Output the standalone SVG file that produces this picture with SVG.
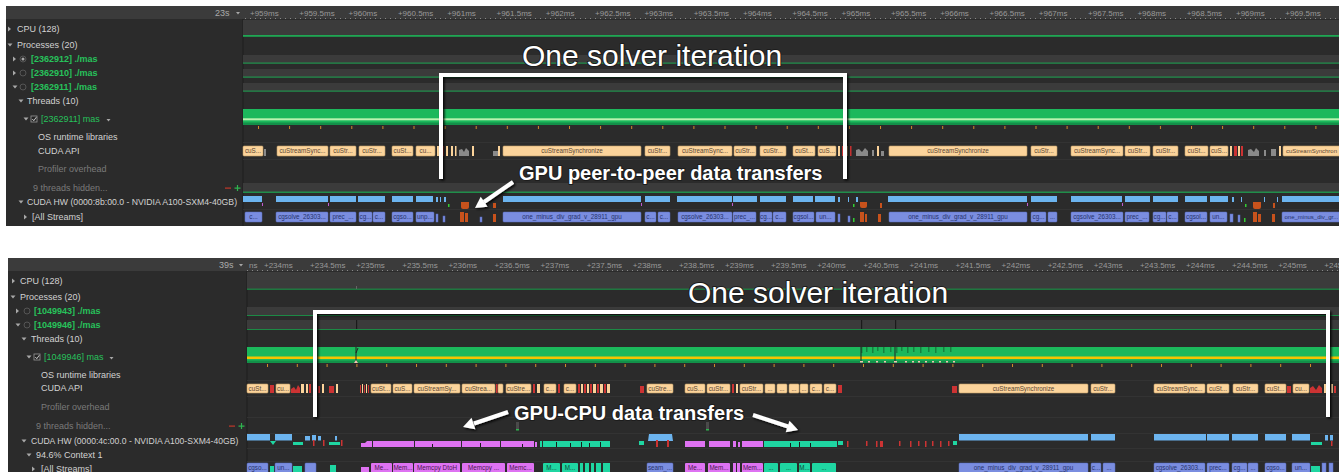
<svg xmlns="http://www.w3.org/2000/svg" width="1339" height="472" viewBox="0 0 1339 472">
<style>
.ui{font-family:"Liberation Sans",Arial,sans-serif;font-size:9px;fill:#d2d2d2}
.gb{fill:#27c25b;font-weight:bold}
.g2{fill:#27c25b}
.dim{fill:#7a7a7a}
.tick{font-family:"Liberation Sans",Arial,sans-serif;font-size:8px;fill:#999}
.api{fill:#fcd49b;stroke:#c29d6a;stroke-width:0.6}
.bt{font-family:"Liberation Sans",Arial,sans-serif;font-size:6.3px;text-anchor:middle}
.bs{font-family:"Liberation Sans",Arial,sans-serif;font-size:6px}
.at{fill:#5a4734}
.kt{fill:#26336e}
.pt{fill:#4a1850}
.tt{fill:#0d4a38}
.hw{fill:#6cb4ef}
.ks{fill:#7a8de0;stroke:#5a6cc0;stroke-width:0.5}
.mp{fill:#de72f2}
.tl{fill:#1fd6a2}
.rd{fill:#cc3333}
.or{fill:#c8521c}
.bg{fill:#fcd49b}
.gy{fill:#8a8a8a}
.bd{fill:#3b3b3b}
.gl{fill:#1fa653}
.tri{fill:#a8a8a8}
.ann{font-family:"Liberation Sans",Arial,sans-serif;fill:#fff;stroke:#1c1c1c;stroke-width:2;paint-order:stroke;stroke-linejoin:round}
.br{fill:none;stroke:#fff;stroke-width:4}
</style>
<defs>
<filter id="sh" x="-10%" y="-10%" width="120%" height="130%">
<feDropShadow dx="1.5" dy="1.5" stdDeviation="1.2" flood-color="#000" flood-opacity="0.9"/>
</filter>
<pattern id="tk1" x="258" y="126" width="31.1" height="3" patternUnits="userSpaceOnUse"><rect width="1" height="3" fill="#d08a2a"/></pattern>
<pattern id="tk2" x="267" y="364" width="29.8" height="3" patternUnits="userSpaceOnUse"><rect width="1" height="3" fill="#d08a2a"/></pattern>
</defs>
<rect width="1339" height="472" fill="#fff"/>

<!-- ================= TOP PANEL ================= -->
<g id="top-panel">
<rect x="6" y="6" width="1333" height="220" fill="#2b2b2b"/>
<rect x="6" y="6" width="1333" height="13" fill="#3b3b3b"/>
<line x1="243" y1="19" x2="243" y2="226" stroke="#1f1f1f"/>
<line x1="245" y1="18.5" x2="1339" y2="18.5" stroke="#888" stroke-dasharray="1 4"/>
<text class="tick" x="215" y="16" style="font-size:9px;fill:#aaa">23s</text>
<path d="M236,12 h4 l-2,2.5 z" class="tri"/>
<g class="tick">
<text x="250" y="15.5">+959ms</text><text x="299.3" y="15.5">+959.5ms</text><text x="348.6" y="15.5">+960ms</text><text x="397.9" y="15.5">+960.5ms</text><text x="447.2" y="15.5">+961ms</text><text x="496.5" y="15.5">+961.5ms</text><text x="545.8" y="15.5">+962ms</text><text x="595.1" y="15.5">+962.5ms</text><text x="644.4" y="15.5">+963ms</text><text x="693.7" y="15.5">+963.5ms</text><text x="743" y="15.5">+964ms</text><text x="792.3" y="15.5">+964.5ms</text><text x="841.6" y="15.5">+965ms</text><text x="890.9" y="15.5">+965.5ms</text><text x="940.2" y="15.5">+966ms</text><text x="989.5" y="15.5">+966.5ms</text><text x="1038.8" y="15.5">+967ms</text><text x="1088.1" y="15.5">+967.5ms</text><text x="1137.4" y="15.5">+968ms</text><text x="1186.7" y="15.5">+968.5ms</text><text x="1236" y="15.5">+969ms</text><text x="1285.3" y="15.5">+969.5ms</text>
</g>

<!-- left tree -->
<g id="top-tree">
<path class="tri" d="M8,26.5 l3,2.5 l-3,2.5 z"/><text class="ui" x="17" y="32.2">CPU (128)</text>
<path class="tri" d="M7.5,43.5 h5 l-2.5,3 z"/><text class="ui" x="17" y="48.2">Processes (20)</text>
<path class="tri" d="M13,56.5 l3,2.5 l-3,2.5 z"/><circle cx="23" cy="59" r="3" fill="none" stroke="#555"/><circle cx="23" cy="59" r="1.5" fill="#aaa"/><text class="ui gb" x="31" y="62.2">[2362912] ./mas</text>
<path class="tri" d="M13,70.5 l3,2.5 l-3,2.5 z"/><circle cx="23" cy="73" r="3" fill="none" stroke="#555"/><text class="ui gb" x="31" y="76.2">[2362910] ./mas</text>
<path class="tri" d="M12.5,85.5 h5 l-2.5,3 z"/><circle cx="23" cy="87" r="3" fill="none" stroke="#555"/><text class="ui gb" x="31" y="90.2">[2362911] ./mas</text>
<path class="tri" d="M18.5,99.5 h5 l-2.5,3 z"/><text class="ui" x="27" y="104.2">Threads (10)</text>
<path class="tri" d="M23.5,117.5 h5 l-2.5,3 z"/><rect x="31" y="116" width="6" height="6" fill="#222" stroke="#999" stroke-width="0.8"/><path d="M32.3,119 l1.5,1.7 l2.5,-3.5" fill="none" stroke="#ddd" stroke-width="0.9"/><text class="ui g2" x="41" y="122.2">[2362911] mas</text><path class="tri" d="M106.5,119 h4 l-2,2.5 z"/>
<text class="ui" x="38" y="140.2">OS runtime libraries</text>
<text class="ui" x="38" y="154.2">CUDA API</text>
<text class="ui dim" x="38" y="172.2">Profiler overhead</text>
<text class="ui dim" x="33" y="191.2">9 threads hidden...</text>
<rect x="225" y="187.5" width="6" height="1.2" fill="#c0392b"/><path d="M234.5,188.1 h6 M237.5,185.1 v6" stroke="#2fb34f" stroke-width="1.2"/>
<path class="tri" d="M18.5,200.5 h5 l-2.5,3 z"/><text class="ui" x="27" y="205.2" style="font-size:8.7px">CUDA HW (0000:8b:00.0 - NVIDIA A100-SXM4-40GB)</text>
<path class="tri" d="M24,214.5 l3,2.5 l-3,2.5 z"/><text class="ui" x="32" y="220.2">[All Streams]</text>
</g>

<!-- timeline rows -->
<g id="top-rows">
<rect class="bd" x="243" y="20" width="1096" height="15"/><rect class="gl" x="243" y="35" width="1096" height="1.8"/>
<rect class="bd" x="243" y="55" width="1096" height="8"/><rect class="gl" x="243" y="62.6" width="1096" height="1"/>
<rect class="bd" x="243" y="69" width="1096" height="8"/><rect class="gl" x="243" y="76.6" width="1096" height="1"/>
<rect class="bd" x="243" y="83" width="1096" height="8"/><rect class="gl" x="243" y="90.6" width="1096" height="1"/>
<rect x="243" y="109" width="1096" height="16" fill="#1cb85c"/>
<rect x="243" y="118.3" width="1096" height="2" fill="#b9f3b0"/>
<rect x="243" y="122.5" width="1096" height="2.5" fill="#139049"/>
<rect x="243" y="126" width="1096" height="3" fill="url(#tk1)"/>
<rect class="bd" x="243" y="183" width="1096" height="9"/><rect class="gl" x="243" y="191.6" width="1096" height="1.2"/>
<line x1="243" y1="142.5" x2="1339" y2="142.5" stroke="#333"/>
<line x1="243" y1="159.5" x2="1339" y2="159.5" stroke="#333"/>
<line x1="243" y1="209.5" x2="1339" y2="209.5" stroke="#333"/>
</g>

<!-- CUDA API -->
<g id="top-api">
<rect class="api" x="243" y="146" width="20" height="10" rx="1"/>
<rect class="api" x="277" y="146" width="51" height="10" rx="1"/>
<rect class="api" x="330" y="146" width="26" height="10" rx="1"/>
<rect class="api" x="359" y="146" width="26" height="10" rx="1"/>
<rect class="api" x="392" y="146" width="21" height="10" rx="1"/>
<rect class="api" x="416" y="146" width="19" height="10" rx="1"/>
<rect class="api" x="503" y="146" width="138" height="10" rx="1"/>
<rect class="api" x="645" y="146" width="25" height="10" rx="1"/>
<rect class="api" x="678" y="146" width="54" height="10" rx="1"/>
<rect class="api" x="734" y="146" width="22" height="10" rx="1"/>
<rect class="api" x="760" y="146" width="26" height="10" rx="1"/>
<rect class="api" x="793" y="146" width="22" height="10" rx="1"/>
<rect class="api" x="818" y="146" width="18" height="10" rx="1"/>
<rect class="api" x="889" y="146" width="138" height="10" rx="1"/>
<rect class="api" x="1031" y="146" width="26" height="10" rx="1"/>
<rect class="api" x="1071" y="146" width="52" height="10" rx="1"/>
<rect class="api" x="1125" y="146" width="25" height="10" rx="1"/>
<rect class="api" x="1153" y="146" width="25" height="10" rx="1"/>
<rect class="api" x="1185" y="146" width="23" height="10" rx="1"/>
<rect class="api" x="1210" y="146" width="18" height="10" rx="1"/>
<rect class="api" x="1283" y="146" width="57" height="10" rx="1"/>
<g class="bt at">
<text x="253" y="153.3">cuS...</text><text x="302.5" y="153.3">cuStreamSync...</text><text x="343" y="153.3">cuStr...</text><text x="372" y="153.3">cuStr...</text><text x="402.5" y="153.3">cuSt...</text><text x="425.5" y="153.3">cu...</text>
<text x="572" y="153.3">cuStreamSynchronize</text><text x="657.5" y="153.3">cuStr...</text><text x="705" y="153.3">cuStreamSync...</text><text x="745" y="153.3">cuStr...</text><text x="773" y="153.3">cuStr...</text><text x="804" y="153.3">cuSt...</text><text x="827" y="153.3">cuS...</text>
<text x="958" y="153.3">cuStreamSynchronize</text><text x="1044" y="153.3">cuStr...</text><text x="1097" y="153.3">cuStreamSync...</text><text x="1137.5" y="153.3">cuStr...</text><text x="1165.5" y="153.3">cuStr...</text><text x="1196.5" y="153.3">cuSt...</text><text x="1219" y="153.3">cuS...</text>
</g>
<text class="bs at" x="1286" y="153.3">cuStreamSynchron</text>
<rect class="gy" x="264" y="149" width="2" height="7"/>
<rect class="bg" x="437" y="146" width="2" height="10"/><rect class="rd" x="441" y="146" width="3" height="10"/><rect class="bg" x="446" y="146" width="2" height="10"/><rect class="bg" x="451" y="146" width="2" height="10"/><rect class="bg" x="455" y="146" width="1.5" height="10"/>
<polygon class="gy" points="459,156 459,150 462,149 464,152 466,148 469,151 469,156"/><rect class="bg" x="472" y="146" width="2" height="10"/>
<rect class="gy" x="493" y="151" width="5" height="5"/><rect class="bg" x="498" y="146" width="2" height="10"/>
<rect class="bg" x="838" y="146" width="2" height="10"/><rect class="rd" x="842" y="146" width="2" height="10"/><rect class="bg" x="846" y="146" width="2" height="10"/><rect class="rd" x="850" y="146" width="1.5" height="10"/>
<polygon class="gy" points="856,156 856,150 859,149 862,152 865,148 868,151 868,156"/><rect class="gy" x="872" y="150" width="2" height="6"/><rect class="bg" x="877" y="146" width="2" height="10"/><rect class="gy" x="881" y="151" width="3" height="5"/>
<rect class="bg" x="1230" y="146" width="2" height="10"/><rect class="rd" x="1234" y="146" width="3" height="10"/><rect class="bg" x="1238" y="146" width="2" height="10"/><rect class="rd" x="1241" y="146" width="2" height="10"/>
<polygon class="gy" points="1248,156 1248,150 1251,149 1254,152 1256,148 1259,151 1259,156"/><rect class="gy" x="1264" y="150" width="2" height="6"/><rect class="gy" x="1271" y="149" width="5" height="7"/><rect class="bg" x="1279" y="146" width="2" height="10"/>
</g>

<!-- CUDA HW -->
<g id="top-hw">
<g class="hw">
<rect x="243" y="196" width="19" height="6"/><rect x="276" y="196" width="52" height="6"/><rect x="330" y="196" width="26" height="6"/><rect x="358" y="196" width="27" height="6"/><rect x="392" y="196" width="21" height="6"/><rect x="416" y="196" width="17" height="6"/><rect x="436" y="197" width="2" height="5"/><rect x="440" y="197" width="1" height="5"/><rect x="444" y="197" width="2" height="5"/>
<rect x="503" y="196" width="138" height="6"/><rect x="645" y="196" width="25" height="6"/><rect x="677" y="196" width="55" height="6"/><rect x="733" y="196" width="24" height="6"/><rect x="760" y="196" width="26" height="6"/><rect x="793" y="196" width="20" height="6"/><rect x="815" y="196" width="20" height="6"/><rect x="838" y="197" width="2" height="5"/><rect x="848" y="197" width="1" height="5"/><rect x="856" y="197" width="2" height="5"/>
<rect x="888" y="196" width="139" height="6"/><rect x="1031" y="196" width="26" height="6"/><rect x="1071" y="196" width="51" height="6"/><rect x="1125" y="196" width="25" height="6"/><rect x="1153" y="196" width="25" height="6"/><rect x="1185" y="196" width="22" height="6"/><rect x="1210" y="196" width="18" height="6"/><rect x="1232" y="197" width="2" height="5"/><rect x="1241" y="197" width="1" height="5"/><rect x="1264" y="197" width="1" height="5"/><rect x="1277" y="197" width="1" height="5"/>
<rect x="1282" y="196" width="57" height="6"/>
</g>
<path class="or" d="M461,202 h8 v5 q0,2 -2,2 h-4 q-2,0 -2,-2 z"/><rect class="or" x="493" y="203" width="3" height="5"/>
<path class="or" d="M860,202 h7 v4 q0,2 -2,2 h-3 q-2,0 -2,-2 z"/><rect class="or" x="880" y="203" width="2" height="5"/>
<path class="or" d="M1253,202 h8 v5 q0,2 -2,2 h-4 q-2,0 -2,-2 z"/><rect class="or" x="1273" y="203" width="2" height="5"/>
<rect x="448" y="204" width="1.5" height="3" fill="#3c3"/><rect x="853" y="204" width="1.5" height="3" fill="#3c3"/><rect x="1245" y="204" width="1.5" height="3" fill="#3c3"/>
<g fill="#c05ad0"><rect x="262" y="203" width="1" height="3"/><rect x="328" y="203" width="1" height="3"/><rect x="641" y="203" width="1" height="3"/><rect x="732" y="203" width="1" height="3"/><rect x="1027" y="203" width="1" height="3"/><rect x="1122" y="203" width="1" height="3"/></g>
</g>

<!-- All Streams -->
<g id="top-streams">
<rect class="ks" x="245" y="212" width="17" height="10" rx="1"/>
<rect class="ks" x="276" y="212" width="52" height="10" rx="1"/>
<rect class="ks" x="330" y="212" width="26" height="10" rx="1"/>
<rect class="ks" x="359" y="212" width="13" height="10" rx="1"/>
<rect class="ks" x="373" y="212" width="12" height="10" rx="1"/>
<rect class="ks" x="392" y="212" width="21" height="10" rx="1"/>
<rect class="ks" x="416" y="212" width="18" height="10" rx="1"/>
<rect class="ks" x="436" y="214" width="2" height="8"/><rect class="ks" x="443" y="216" width="2" height="6"/>
<rect class="or" x="460" y="212" width="4" height="10"/><rect class="or" x="465" y="213" width="3" height="9"/><rect class="or" x="493" y="214" width="3" height="8"/><rect class="ks" x="480" y="217" width="2" height="5"/>
<rect class="ks" x="503" y="212" width="138" height="10" rx="1"/>
<rect class="ks" x="645" y="212" width="11" height="10" rx="1"/>
<rect class="ks" x="658" y="212" width="12" height="10" rx="1"/>
<rect class="ks" x="678" y="212" width="54" height="10" rx="1"/>
<rect class="ks" x="733" y="212" width="23" height="10" rx="1"/>
<rect class="ks" x="760" y="212" width="12" height="10" rx="1"/>
<rect class="ks" x="773" y="212" width="13" height="10" rx="1"/>
<rect class="ks" x="793" y="212" width="21" height="10" rx="1"/>
<rect class="ks" x="816" y="212" width="19" height="10" rx="1"/>
<rect class="ks" x="838" y="214" width="2" height="8"/><rect class="ks" x="848" y="216" width="2" height="6"/><rect x="853" y="218" width="1.5" height="4" fill="#3c3"/>
<rect class="or" x="860" y="212" width="4" height="10"/><rect class="or" x="865" y="214" width="2" height="8"/><rect class="or" x="878" y="214" width="3" height="8"/>
<rect class="ks" x="889" y="212" width="138" height="10" rx="1"/>
<rect class="ks" x="1031" y="212" width="15" height="10" rx="1"/>
<rect class="ks" x="1048" y="212" width="9" height="10" rx="1"/>
<rect class="ks" x="1071" y="212" width="52" height="10" rx="1"/>
<rect class="ks" x="1125" y="212" width="24" height="10" rx="1"/>
<rect class="ks" x="1153" y="212" width="13" height="10" rx="1"/>
<rect class="ks" x="1167" y="212" width="11" height="10" rx="1"/>
<rect class="ks" x="1185" y="212" width="22" height="10" rx="1"/>
<rect class="ks" x="1210" y="212" width="17" height="10" rx="1"/>
<rect class="ks" x="1230" y="214" width="3" height="8"/><rect class="ks" x="1238" y="215" width="2" height="7"/><rect x="1244" y="218" width="1.5" height="4" fill="#3c3"/>
<rect class="or" x="1253" y="212" width="4" height="10"/><rect class="or" x="1258" y="214" width="3" height="8"/><rect class="or" x="1272" y="214" width="3" height="8"/>
<rect class="ks" x="1282" y="212" width="58" height="10" rx="1"/>
<g class="bt kt">
<text x="253.5" y="219.3">c...</text><text x="302" y="219.3">cgsolve_26303...</text><text x="343" y="219.3">prec_...</text><text x="365.5" y="219.3">cg...</text><text x="379" y="219.3">c...</text><text x="402.5" y="219.3">cgso...</text><text x="425" y="219.3">unp...</text>
<text x="572" y="219.3">one_minus_div_grad_v_28911_gpu</text><text x="650.5" y="219.3">c...</text><text x="664" y="219.3">c...</text><text x="705" y="219.3">cgsolve_26303...</text><text x="744.5" y="219.3">prec_...</text><text x="766" y="219.3">cg...</text><text x="779.5" y="219.3">c...</text><text x="803.5" y="219.3">cgsol...</text><text x="825.5" y="219.3">un...</text>
<text x="958" y="219.3">one_minus_div_grad_v_28911_gpu</text><text x="1038.5" y="219.3">cg...</text><text x="1052.5" y="219.3">...</text><text x="1097" y="219.3">cgsolve_26303...</text><text x="1137" y="219.3">prec_...</text><text x="1159.5" y="219.3">cg...</text><text x="1172.5" y="219.3">c...</text><text x="1196" y="219.3">cgsol...</text><text x="1218.5" y="219.3">un...</text>
</g>
<text class="bs kt" x="1284.5" y="219.3">one_minus_div_gr...</text>
</g>

<!-- annotations -->
<g id="top-annotations">
<path class="br" d="M441,179 V75 H845 V179" filter="url(#sh)"/>
<text class="ann" x="522" y="66" font-size="30">One solver iteration</text>
<text class="ann" x="519" y="180" font-size="20" font-weight="bold">GPU peer-to-peer data transfers</text>
<g filter="url(#sh)">
<line x1="513" y1="182" x2="484" y2="202" stroke="#fff" stroke-width="4"/>
<polygon points="475,208 487.5,206.8 480.7,196.8" fill="#fff"/>
</g>
</g>
</g>

<!-- ================= BOTTOM PANEL ================= -->
<g id="bottom-panel">
<rect x="8" y="258" width="1331" height="214" fill="#2b2b2b"/>
<rect x="8" y="258" width="1331" height="13" fill="#3b3b3b"/>
<line x1="247" y1="271" x2="247" y2="472" stroke="#1f1f1f"/>
<line x1="247" y1="270.5" x2="1339" y2="270.5" stroke="#888" stroke-dasharray="1 4"/>
<text class="tick" x="219" y="268" style="font-size:9px;fill:#aaa">39s</text>
<path d="M239,264 h4 l-2,2.5 z" class="tri"/>
<g class="tick">
<text x="249" y="267.5">ns</text><text x="264" y="267.5">+234ms</text><text x="310.1" y="267.5">+234.5ms</text><text x="356.2" y="267.5">+235ms</text><text x="402.3" y="267.5">+235.5ms</text><text x="448.4" y="267.5">+236ms</text><text x="494.5" y="267.5">+236.5ms</text><text x="540.6" y="267.5">+237ms</text><text x="586.7" y="267.5">+237.5ms</text><text x="632.8" y="267.5">+238ms</text><text x="678.9" y="267.5">+238.5ms</text><text x="725" y="267.5">+239ms</text><text x="771.1" y="267.5">+239.5ms</text><text x="817.2" y="267.5">+240ms</text><text x="863.3" y="267.5">+240.5ms</text><text x="909.4" y="267.5">+241ms</text><text x="955.5" y="267.5">+241.5ms</text><text x="1001.6" y="267.5">+242ms</text><text x="1047.7" y="267.5">+242.5ms</text><text x="1093.8" y="267.5">+243ms</text><text x="1139.9" y="267.5">+243.5ms</text><text x="1186" y="267.5">+244ms</text><text x="1232.1" y="267.5">+244.5ms</text><text x="1278.2" y="267.5">+245ms</text><text x="1324.3" y="267.5">+245.5ms</text>
</g>

<g id="bottom-tree">
<path class="tri" d="M12,278.5 l3,2.5 l-3,2.5 z"/><text class="ui" x="20" y="284.2">CPU (128)</text>
<path class="tri" d="M10.5,295.5 h5 l-2.5,3 z"/><text class="ui" x="20" y="300.2">Processes (20)</text>
<path class="tri" d="M16,308.5 l3,2.5 l-3,2.5 z"/><circle cx="27" cy="311" r="3" fill="none" stroke="#555"/><text class="ui gb" x="34" y="314.2">[1049943] ./mas</text>
<path class="tri" d="M15.5,323.5 h5 l-2.5,3 z"/><circle cx="27" cy="325" r="3" fill="none" stroke="#555"/><text class="ui gb" x="34" y="328.2">[1049946] ./mas</text>
<path class="tri" d="M21.5,337.5 h5 l-2.5,3 z"/><text class="ui" x="31" y="342.2">Threads (10)</text>
<path class="tri" d="M26.5,355.5 h5 l-2.5,3 z"/><rect x="34" y="354" width="6" height="6" fill="#222" stroke="#999" stroke-width="0.8"/><path d="M35.3,357 l1.5,1.7 l2.5,-3.5" fill="none" stroke="#ddd" stroke-width="0.9"/><text class="ui g2" x="44" y="360.2">[1049946] mas</text><path class="tri" d="M109.5,357 h4 l-2,2.5 z"/>
<text class="ui" x="41" y="378.2">OS runtime libraries</text>
<text class="ui" x="41" y="391.2">CUDA API</text>
<text class="ui dim" x="41" y="410.2">Profiler overhead</text>
<text class="ui dim" x="36" y="429.2">9 threads hidden...</text>
<rect x="229" y="425.5" width="6" height="1.2" fill="#c0392b"/><path d="M238.5,426.1 h6 M241.5,423.1 v6" stroke="#2fb34f" stroke-width="1.2"/>
<path class="tri" d="M21.5,439.5 h5 l-2.5,3 z"/><text class="ui" x="31" y="444.2" style="font-size:8.6px">CUDA HW (0000:4c:00.0 - NVIDIA A100-SXM4-40GB)</text>
<path class="tri" d="M26.5,453.5 h5 l-2.5,3 z"/><text class="ui" x="36" y="458.2">94.6% Context 1</text>
<path class="tri" d="M32,466.5 l3,2.5 l-3,2.5 z"/><text class="ui" x="41" y="471.6">[All Streams]</text>
</g>

<g id="bottom-rows">
<rect class="bd" x="247" y="272" width="1092" height="17"/><rect x="247" y="288.6" width="1092" height="1.2" fill="#1c8a45"/><rect x="356" y="286" width="1" height="3" fill="#666"/>
<rect class="bd" x="247" y="307" width="1092" height="8"/><rect x="247" y="315" width="1092" height="1" fill="#1c8a45"/>
<rect class="bd" x="247" y="320" width="1092" height="9"/><rect x="247" y="329" width="1092" height="1" fill="#1c8a45"/>
<g fill="#1a1a1a"><rect x="356" y="320" width="1.2" height="9"/><rect x="861" y="320" width="1.2" height="9"/><rect x="895" y="320" width="1.2" height="9"/></g>
<rect x="247" y="347" width="1092" height="16" fill="#1cb85c"/>
<rect x="247" y="356.5" width="1092" height="2.5" fill="#f5c400"/>
<rect x="247" y="360.5" width="1092" height="2.5" fill="#139049"/>
<rect x="247" y="364" width="1092" height="3" fill="url(#tk2)"/>
<path d="M356,347 v14 M358,348 l-2,5" stroke="#222" stroke-width="1" fill="none"/>
<polygon points="354,363 358,363 356,360" fill="#f3c3b3"/>
<g fill="#17803f">
<rect x="861" y="347" width="1.5" height="6"/><rect x="866" y="347" width="1.5" height="5"/><rect x="872" y="347" width="1.5" height="6"/><rect x="877" y="347" width="1.5" height="4"/><rect x="883" y="347" width="1.5" height="6"/><rect x="890" y="347" width="1.5" height="5"/><rect x="896" y="347" width="1.5" height="6"/><rect x="901" y="347" width="1.5" height="4"/><rect x="907" y="347" width="1.5" height="6"/><rect x="913" y="347" width="1.5" height="5"/><rect x="920" y="347" width="1.5" height="6"/><rect x="928" y="347" width="1.5" height="5"/><rect x="935" y="347" width="1.5" height="6"/><rect x="943" y="347" width="1.5" height="5"/><rect x="950" y="347" width="1.5" height="5"/>
</g>
<path d="M861,347 v14 M895,347 v14" stroke="#222" stroke-width="1"/>
<g fill="#f3c3b3"><rect x="860" y="361" width="3" height="1.5"/><rect x="868" y="361" width="2" height="1.5"/><rect x="876" y="361" width="2" height="1.5"/><rect x="884" y="361" width="2" height="1.5"/><rect x="894" y="361" width="3" height="1.5"/><rect x="905" y="361" width="2" height="1.5"/><rect x="912" y="361" width="2" height="1.5"/><rect x="918" y="361" width="2" height="1.5"/><rect x="925" y="361" width="2" height="1.5"/><rect x="932" y="361" width="2" height="1.5"/><rect x="939" y="361" width="2" height="1.5"/><rect x="946" y="361" width="2" height="1.5"/><rect x="953" y="361" width="2" height="1.5"/></g>
<line x1="247" y1="380.5" x2="1339" y2="380.5" stroke="#333"/>
<line x1="247" y1="396.5" x2="1339" y2="396.5" stroke="#333"/>
<line x1="247" y1="417.5" x2="1339" y2="417.5" stroke="#333"/>
<line x1="247" y1="433.5" x2="1339" y2="433.5" stroke="#333"/>
<line x1="247" y1="448.5" x2="1339" y2="448.5" stroke="#333"/>
<line x1="247" y1="461.5" x2="1339" y2="461.5" stroke="#333"/>
<rect x="516" y="422" width="3" height="8" fill="#4a4a4a"/><rect x="516" y="429" width="3" height="1.5" fill="#2fb34f"/>
<rect x="706" y="422" width="3" height="8" fill="#4a4a4a"/><rect x="706" y="429" width="3" height="1.5" fill="#2fb34f"/>
</g>

<g id="bottom-api">
<rect class="api" x="247" y="384" width="21" height="9" rx="1"/>
<rect class="api" x="276" y="384" width="14" height="9" rx="1"/>
<rect class="api" x="371" y="384" width="20" height="9" rx="1"/>
<rect class="api" x="393" y="384" width="19" height="9" rx="1"/>
<rect class="api" x="414" y="384" width="46" height="9" rx="1"/>
<rect class="api" x="462" y="384" width="33" height="9" rx="1"/>
<rect class="api" x="498" y="384" width="5" height="9" rx="1"/>
<rect class="api" x="506" y="384" width="25" height="9" rx="1"/>
<rect class="api" x="544" y="384" width="12" height="9" rx="1"/>
<rect class="api" x="564" y="384" width="12" height="9" rx="1"/>
<rect class="api" x="647" y="384" width="26" height="9" rx="1"/>
<rect class="api" x="685" y="384" width="20" height="9" rx="1"/>
<rect class="api" x="707" y="384" width="23" height="9" rx="1"/>
<rect class="api" x="740" y="384" width="23" height="9" rx="1"/>
<rect class="api" x="765" y="384" width="10" height="9" rx="1"/>
<rect class="api" x="777" y="384" width="10" height="9" rx="1"/>
<rect class="api" x="789" y="384" width="10" height="9" rx="1"/>
<rect class="api" x="800" y="384" width="8" height="9" rx="1"/>
<rect class="api" x="810" y="384" width="12" height="9" rx="1"/>
<rect class="api" x="824" y="384" width="12" height="9" rx="1"/>
<rect class="api" x="959" y="384" width="129" height="9" rx="1"/>
<rect class="api" x="1091" y="384" width="24" height="9" rx="1"/>
<rect class="api" x="1154" y="384" width="51" height="9" rx="1"/>
<rect class="api" x="1207" y="384" width="22" height="9" rx="1"/>
<rect class="api" x="1233" y="384" width="25" height="9" rx="1"/>
<rect class="api" x="1265" y="384" width="21" height="9" rx="1"/>
<rect class="api" x="1293" y="384" width="16" height="9" rx="1"/>
<g class="bt at">
<text x="257.5" y="390.8">cuSt...</text><text x="283" y="390.8">cu...</text><text x="381" y="390.8">cuSt...</text><text x="402.5" y="390.8">cuS...</text><text x="437" y="390.8">cuStreamSy...</text><text x="478.5" y="390.8">cuStrea...</text><text x="518.5" y="390.8">cuStre...</text><text x="550" y="390.8">c...</text><text x="570" y="390.8">c...</text>
<text x="660" y="390.8">cuStre...</text><text x="695" y="390.8">cuS...</text><text x="718.5" y="390.8">cuStr...</text><text x="751.5" y="390.8">cuStr...</text><text x="770" y="390.8">...</text><text x="782" y="390.8">...</text><text x="794" y="390.8">...</text><text x="804" y="390.8">...</text><text x="816" y="390.8">c...</text><text x="830" y="390.8">c...</text>
<text x="1023.5" y="390.8">cuStreamSynchronize</text><text x="1103" y="390.8">cuStr...</text><text x="1179.5" y="390.8">cuStreamSync...</text><text x="1218" y="390.8">cuSt...</text><text x="1245.5" y="390.8">cuStr...</text><text x="1275.5" y="390.8">cuSt...</text><text x="1301" y="390.8">cu...</text>
</g>
<rect class="rd" x="270" y="385" width="4" height="8"/>
<polygon class="rd" points="291,393 291,389 294,387 296,390 298,385 300,388 300,393"/>
<rect class="bg" x="301" y="384" width="3" height="9"/><rect class="bg" x="306" y="384" width="2" height="9"/><rect class="rd" x="309" y="384" width="2" height="9"/><rect class="bg" x="313" y="384" width="3" height="9"/><rect class="rd" x="318" y="386" width="2" height="7"/><rect class="bg" x="322" y="384" width="2" height="9"/><rect class="rd" x="329" y="386" width="5" height="7"/><rect class="bg" x="336" y="384" width="2" height="9"/>
<rect class="rd" x="360" y="385" width="1" height="8"/><rect class="bg" x="362" y="384" width="1" height="9"/><rect class="rd" x="364" y="385" width="1" height="8"/><rect class="bg" x="366" y="384" width="1" height="9"/><rect class="rd" x="368" y="385" width="1" height="8"/>
<rect class="rd" x="496" y="384" width="1.5" height="9"/><rect class="rd" x="533" y="384" width="2" height="9"/><rect class="bg" x="537" y="384" width="3" height="9"/><rect class="rd" x="558" y="384" width="2" height="9"/>
<rect class="rd" x="578" y="384" width="2" height="9"/><rect class="bg" x="581" y="384" width="2" height="9"/><rect class="rd" x="584" y="384" width="2" height="9"/><rect class="bg" x="587" y="384" width="2" height="9"/><rect class="rd" x="590" y="384" width="2" height="9"/><rect class="bg" x="593" y="384" width="3" height="9"/><rect class="rd" x="597" y="384" width="2" height="9"/><rect class="bg" x="600" y="384" width="3" height="9"/><rect class="rd" x="604" y="384" width="2" height="9"/><rect class="bg" x="607" y="384" width="3" height="9"/>
<rect class="rd" x="640" y="386" width="4" height="7"/><rect class="rd" x="732" y="384" width="2" height="9"/><rect class="bg" x="736" y="384" width="2" height="9"/><rect class="rd" x="838" y="385" width="4" height="8"/>
<rect class="rd" x="952" y="386" width="5" height="7"/><rect class="rd" x="1287" y="386" width="4" height="7"/>
<polygon class="rd" points="1310,393 1310,388 1313,386 1316,390 1319,385 1322,388 1322,393"/>
<rect class="bg" x="1324" y="384" width="2" height="9"/><rect class="rd" x="1327" y="385" width="2" height="8"/><rect class="bg" x="1331" y="384" width="2" height="9"/><rect class="rd" x="1334" y="386" width="2" height="7"/>
</g>

<g id="bottom-hw">
<g class="hw">
<path d="M247,434 h23 v6.5 h-23 z"/><path d="M275,434 h17 v6.5 h-17 z"/><rect x="305" y="436" width="5" height="4.5"/><rect x="312" y="435" width="4" height="5.5"/><rect x="318" y="436" width="3" height="4.5"/><rect x="335" y="436" width="2" height="4.5"/>
<path d="M648,441 l1,-7 h23 l1,7 z"/>
<rect x="959" y="434" width="129" height="6.5"/><rect x="1091" y="434" width="24" height="6.5"/><rect x="1154" y="434" width="52" height="6.5"/><rect x="1207" y="434" width="22" height="6.5"/><rect x="1232" y="434" width="26" height="6.5"/><rect x="1265" y="434" width="21" height="6.5"/><rect x="1292" y="434" width="18" height="6.5"/><rect x="1325" y="435" width="3" height="5.5"/><rect x="1330" y="435" width="3" height="5.5"/>
</g>
<g class="tl">
<polygon points="270,441 276,441 273,445"/><rect x="293" y="442" width="10" height="3"/><rect x="329" y="442" width="11" height="3"/>
<rect x="540" y="441" width="2" height="6"/><rect x="543" y="441" width="67" height="6"/><rect x="639" y="441" width="5" height="4"/>
<rect x="764" y="441" width="73" height="6"/><rect x="838" y="441" width="5" height="4"/><rect x="953" y="441" width="4" height="4"/><rect x="1311" y="442" width="11" height="3"/>
</g>
<g fill="#1a1a1a"><rect x="556" y="442" width="1" height="5"/><rect x="570" y="443" width="1" height="4"/><rect x="581" y="442" width="1" height="5"/><rect x="589" y="443" width="1" height="4"/><rect x="600" y="442" width="1" height="5"/><rect x="790" y="443" width="1" height="4"/><rect x="799" y="442" width="1" height="5"/><rect x="810" y="443" width="1" height="4"/></g>
<g class="mp">
<path d="M361,447 v-4 h4 l2,-2 h5 v6 z"/><rect x="373" y="441" width="41" height="6"/><rect x="415" y="441" width="46" height="6"/><rect x="462" y="441" width="38" height="6"/><rect x="501" y="441" width="33" height="6"/><rect x="535" y="442" width="2" height="5"/>
<rect x="685" y="441" width="20" height="6"/><rect x="709" y="441" width="21" height="6"/><rect x="733" y="441" width="3" height="6"/><rect x="738" y="442" width="2" height="5"/><rect x="742" y="441" width="21" height="6"/>
</g>
<g fill="#1a1a1a"><rect x="432" y="444" width="1" height="3"/><rect x="480" y="443" width="1" height="4"/><rect x="522" y="444" width="1" height="3"/></g>
<g class="rd">
<rect x="313" y="440" width="1.5" height="6"/><rect x="323" y="440" width="1.5" height="6"/><rect x="341" y="440" width="1.5" height="6"/>
<rect x="656" y="440" width="2" height="7"/><rect x="667" y="440" width="2" height="7"/>
<rect x="847" y="441" width="1.5" height="6"/><rect x="866" y="441" width="1.5" height="5"/><rect x="876" y="441" width="1.5" height="6"/><rect x="880" y="441" width="3" height="6"/><rect x="899" y="441" width="1.5" height="5"/><rect x="910" y="441" width="1.5" height="6"/><rect x="918" y="441" width="1.5" height="5"/><rect x="925" y="441" width="1.5" height="6"/><rect x="932" y="441" width="1.5" height="5"/><rect x="940" y="441" width="1.5" height="6"/><rect x="948" y="441" width="1.5" height="5"/><rect x="1331" y="441" width="1.5" height="5"/>
</g>
</g>

<g id="bottom-streams">
<rect class="ks" x="247" y="463" width="21" height="10" rx="1"/>
<rect class="tl" x="270" y="466" width="4" height="6"/>
<rect class="ks" x="275" y="463" width="17" height="10" rx="1"/>
<rect class="tl" x="293" y="466" width="9" height="6"/>
<rect class="ks" x="305" y="463" width="11" height="10" rx="1"/>
<rect class="tl" x="330" y="465" width="6" height="7"/>
<rect class="mp" x="361" y="467" width="8" height="5"/>
<rect class="mp" x="371" y="463" width="21" height="10" rx="1"/>
<rect class="mp" x="393" y="463" width="20" height="10" rx="1"/>
<rect class="mp" x="414" y="463" width="46" height="10" rx="1"/>
<rect class="mp" x="462" y="463" width="43" height="10" rx="1"/>
<rect class="mp" x="507" y="463" width="27" height="10" rx="1"/>
<rect class="tl" x="543" y="463" width="17" height="10" rx="1"/>
<rect class="tl" x="562" y="463" width="16" height="10" rx="1"/>
<rect class="tl" x="580" y="463" width="3" height="10"/><rect class="tl" x="585" y="463" width="4" height="10"/><rect class="tl" x="591" y="463" width="3" height="10"/><rect class="tl" x="596" y="463" width="5" height="10"/><rect class="tl" x="603" y="463" width="7" height="10"/>
<rect class="ks" x="647" y="463" width="26" height="10" rx="1"/>
<rect class="mp" x="685" y="463" width="20" height="10" rx="1"/>
<rect class="mp" x="708" y="463" width="22" height="10" rx="1"/>
<rect class="mp" x="733" y="463" width="3" height="10"/><rect class="mp" x="737" y="463" width="3" height="10"/>
<rect class="mp" x="742" y="463" width="21" height="10" rx="1"/>
<rect class="tl" x="764" y="463" width="14" height="10" rx="1"/>
<rect class="tl" x="780" y="463" width="17" height="10" rx="1"/>
<rect class="tl" x="799" y="463" width="11" height="10" rx="1"/>
<rect class="tl" x="812" y="463" width="24" height="10" rx="1"/>
<rect class="ks" x="959" y="463" width="129" height="10" rx="1"/>
<rect class="ks" x="1091" y="463" width="10" height="10" rx="1"/>
<rect class="ks" x="1103" y="463" width="12" height="10" rx="1"/>
<rect class="ks" x="1154" y="463" width="51" height="10" rx="1"/>
<rect class="ks" x="1207" y="463" width="22" height="10" rx="1"/>
<rect class="ks" x="1232" y="463" width="15" height="10" rx="1"/>
<rect class="ks" x="1248" y="463" width="10" height="10" rx="1"/>
<rect class="ks" x="1265" y="463" width="21" height="10" rx="1"/>
<rect class="ks" x="1292" y="463" width="18" height="10" rx="1"/>
<rect class="tl" x="1311" y="466" width="9" height="6"/>
<rect class="ks" x="1322" y="463" width="4" height="10"/><rect class="ks" x="1329" y="463" width="4" height="10"/>
<g class="bt kt">
<text x="257.5" y="470.3">cgso...</text><text x="283.5" y="470.3">un...</text><text x="660" y="470.3">seam_...</text>
<text x="1023.5" y="470.3">one_minus_div_grad_v_28911_gpu</text><text x="1096" y="470.3">c...</text><text x="1109" y="470.3">...</text>
<text x="1179.5" y="470.3">cgsolve_26303...</text><text x="1218" y="470.3">prec...</text><text x="1239.5" y="470.3">cg...</text><text x="1253" y="470.3">...</text><text x="1275.5" y="470.3">cgso...</text><text x="1301" y="470.3">un...</text>
</g>
<g class="bt pt">
<text x="381.5" y="470.3">Me...</text><text x="403" y="470.3">Mem...</text><text x="437" y="470.3">Memcpy DtoH</text><text x="483.5" y="470.3">Memcpy ...</text><text x="520.5" y="470.3">Memc...</text>
<text x="695" y="470.3">Me...</text><text x="719" y="470.3">Mem...</text><text x="752.5" y="470.3">Mem...</text>
</g>
<g class="bt tt">
<text x="551.5" y="470.3">M...</text><text x="570" y="470.3">M...</text><text x="771" y="470.3">...</text><text x="788.5" y="470.3">...</text><text x="804.5" y="470.3">M...</text><text x="824" y="470.3">...</text>
</g>
</g>

<g id="bottom-annotations">
<path class="br" d="M315,417 V312 H1328 V417" filter="url(#sh)"/>
<text class="ann" x="688" y="303" font-size="30">One solver iteration</text>
<text class="ann" x="514" y="420" font-size="20" font-weight="bold">GPU-CPU data transfers</text>
<g filter="url(#sh)">
<line x1="508" y1="412" x2="474" y2="423.5" stroke="#fff" stroke-width="4"/>
<polygon points="463,427 475.3,429.2 471.5,417.8" fill="#fff"/>
<line x1="753" y1="415" x2="788" y2="426.5" stroke="#fff" stroke-width="4"/>
<polygon points="798,430 785.7,432.2 789.5,420.8" fill="#fff"/>
</g>
</g>
</g>
</svg>
